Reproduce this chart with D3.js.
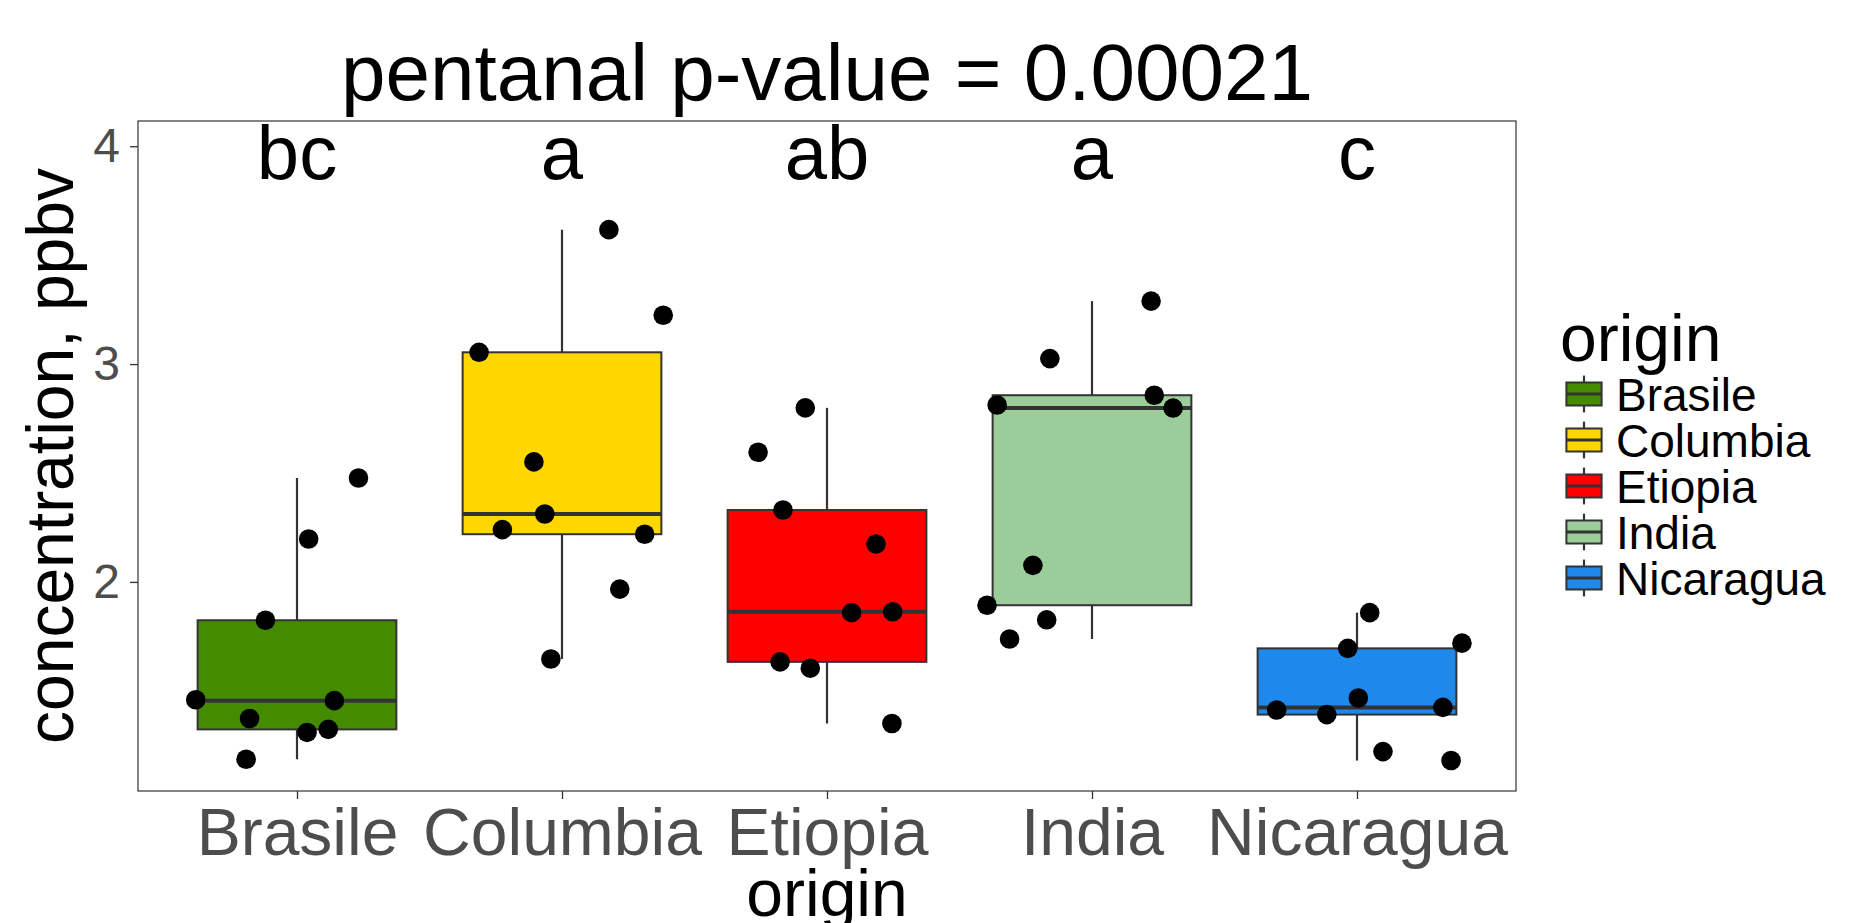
<!DOCTYPE html>
<head>
	<meta charset="utf-8">
	<title>pentanal boxplot</title>
	<script src="https://d3js.org/d3.v7.min.js"></script>
	<style>
	body { margin:0; background:#fff; }
	text { font-family: "Liberation Sans", Arial, sans-serif; }
	.box { stroke:#333333; stroke-width:2; }
	.median { stroke:#333333; stroke-width:4; }
	.whisker { stroke:#333333; stroke-width:2.2; }
	.dot { fill:#000; }
	.panel { fill:none; stroke:#333333; stroke-width:1.2; }
	.axis .domain { display:none; }
	.axis line { stroke:#333333; stroke-width:1.3; }
	.axis text { fill:#4d4d4d; }
	</style>
</head>
<body>
<div class="chartContainer"></div>
<script>
	// categories and group letters
	var origins = ["Brasile", "Columbia", "Etiopia", "India", "Nicaragua"];
	var letters = ["bc", "a", "ab", "a", "c"];
	var letterY = 3.976;
	var yTicks = [2, 3, 4];

	// concentration (ppbv) per origin
	var brasile   = [1.459, 1.373, 1.186, 1.824, 2.197, 2.477, 1.455, 1.309, 1.323];
	var columbia  = [3.054, 3.617, 3.224, 2.551, 2.312, 2.240, 2.219, 1.967, 1.646];
	var etiopia   = [2.799, 2.595, 2.330, 2.174, 1.859, 1.863, 1.633, 1.604, 1.350];
	var india     = [3.289, 3.025, 2.857, 2.812, 2.798, 2.076, 1.893, 1.826, 1.738];
	var nicaragua = [1.859, 1.719, 1.695, 1.467, 1.412, 1.424, 1.391, 1.221, 1.180];

	// horizontal jitter of each point, in category units
	var brasileJit   = [-0.382, -0.179, -0.192, -0.119, 0.044, 0.232, 0.141, 0.038, 0.118];
	var columbiaJit  = [-0.313, 0.177, 0.382, -0.106, -0.065, -0.225, 0.312, 0.218, -0.042];
	var etiopiaJit   = [-0.082, -0.260, -0.166, 0.185, 0.093, 0.248, -0.177, -0.063, 0.245];
	var indiaJit     = [0.223, -0.159, 0.235, -0.358, 0.306, -0.223, -0.396, -0.171, -0.311];
	var nicaraguaJit = [0.048, 0.396, -0.035, 0.005, -0.303, 0.324, -0.114, 0.098, 0.355];

	var fillColors = ["#458B00", "#FFD700", "#FF0000", "#9BCD9B", "#1E88EB"];

	var values = [brasile, columbia, etiopia, india, nicaragua];
	var jitters = [brasileJit, columbiaJit, etiopiaJit, indiaJit, nicaraguaJit];

	var totalWidth = 1854, totalHeight = 923;
	var margin = {top: 121, right: 338, bottom: 132, left: 138};
	var width = totalWidth - margin.left - margin.right;
	var height = totalHeight - margin.top - margin.bottom;

	//box stats the ggplot way (type 7 quantiles, 1.5 IQR whiskers)
	var stats = origins.map(function(o, i) {
		var v = values[i].slice().sort(d3.ascending);
		var q1 = d3.quantile(v, 0.25), med = d3.quantile(v, 0.5), q3 = d3.quantile(v, 0.75);
		var iqr = q3 - q1;
		var inside = v.filter(function(d) { return d >= q1 - 1.5 * iqr && d <= q3 + 1.5 * iqr; });
		return {origin: o, q1: q1, med: med, q3: q3, lo: d3.min(inside), hi: d3.max(inside), fill: fillColors[i]};
	});

	var points = [];
	values.forEach(function(v, i) {
		v.forEach(function(d, j) { points.push({origin: origins[i], value: d, jit: jitters[i][j]}); });
	});

	var yMin = d3.min(points, function(d) { return d.value; });
	var pad = (letterY - yMin) * 0.05;

	var x = d3.scalePoint().domain(origins).range([0, width]).padding(0.6);
	var step = x.step();
	var y = d3.scaleLinear().domain([yMin - pad, letterY + pad]).range([height, 0]);
	var boxW = step * 0.75;

	var svg = d3.select(".chartContainer").append("svg")
		.attr("width", totalWidth)
		.attr("height", totalHeight)
		.append("g")
		.attr("transform", "translate(" + margin.left + "," + margin.top + ")");

	// axes
	svg.append("g")
		.attr("class", "axis")
		.call(d3.axisLeft(y).tickValues(yTicks).tickFormat(d3.format("d")).tickSize(8).tickPadding(10))
		.selectAll("text").style("font-size", "48px");

	svg.append("g")
		.attr("class", "axis")
		.attr("transform", "translate(0," + height + ")")
		.call(d3.axisBottom(x).tickSize(8).tickPadding(9))
		.selectAll("text").style("font-size", "66px");

	// boxes
	var g = svg.selectAll(".boxg")
		.data(stats)
		.enter()
		.append("g")
		.attr("class", "boxg")
		.attr("transform", function(d) { return "translate(" + x(d.origin) + ",0)"; });

	g.append("line").attr("class", "whisker")
		.attr("y1", function(d) { return y(d.hi); })
		.attr("y2", function(d) { return y(d.q3); });
	g.append("line").attr("class", "whisker")
		.attr("y1", function(d) { return y(d.q1); })
		.attr("y2", function(d) { return y(d.lo); });
	g.append("rect").attr("class", "box")
		.attr("x", -boxW / 2)
		.attr("width", boxW)
		.attr("y", function(d) { return y(d.q3); })
		.attr("height", function(d) { return y(d.q1) - y(d.q3); })
		.attr("fill", function(d) { return d.fill; });
	g.append("line").attr("class", "median")
		.attr("x1", -boxW / 2).attr("x2", boxW / 2)
		.attr("y1", function(d) { return y(d.med); })
		.attr("y2", function(d) { return y(d.med); });

	// jittered points
	svg.selectAll(".dot")
		.data(points)
		.enter()
		.append("circle")
		.attr("class", "dot")
		.attr("cx", function(d) { return x(d.origin) + d.jit * step; })
		.attr("cy", function(d) { return y(d.value); })
		.attr("r", 9.8);

	// group letters
	svg.selectAll(".letter")
		.data(origins)
		.enter()
		.append("text")
		.attr("class", "letter")
		.attr("x", function(d) { return x(d); })
		.attr("y", y(letterY))
		.attr("dy", "0.36em")
		.attr("text-anchor", "middle")
		.style("font-size", "76px")
		.text(function(d, i) { return letters[i]; });

	svg.append("rect").attr("class", "panel")
		.attr("width", width)
		.attr("height", height);

	// titles
	svg.append("text")
		.attr("x", width / 2)
		.attr("y", -21)
		.attr("text-anchor", "middle")
		.style("font-size", "80px")
		.text("pentanal p-value = 0.00021");

	svg.append("text")
		.attr("x", width / 2)
		.attr("y", height + 125)
		.attr("text-anchor", "middle")
		.style("font-size", "66px")
		.text("origin");

	svg.append("text")
		.attr("transform", "translate(" + (-65) + "," + (height / 2) + ") rotate(-90)")
		.attr("text-anchor", "middle")
		.style("font-size", "66px")
		.text("concentration, ppbv");

	// legend
	var legend = svg.append("g")
		.attr("transform", "translate(" + (width + 46) + ",0)");

	legend.append("text")
		.attr("x", -2)
		.attr("y", 240)
		.style("font-size", "66px")
		.text("origin");

	var keyH = 46, keyW = 44;
	var item = legend.selectAll(".item")
		.data(stats)
		.enter()
		.append("g")
		.attr("class", "item")
		.attr("transform", function(d, i) { return "translate(0," + (250 + i * keyH) + ")"; });

	item.append("line").attr("class", "whisker")
		.attr("x1", keyW / 2).attr("x2", keyW / 2)
		.attr("y1", keyH * 0.1).attr("y2", keyH * 0.9);
	item.append("rect").attr("class", "box")
		.attr("x", keyW * 0.1).attr("width", keyW * 0.8)
		.attr("y", keyH * 0.25).attr("height", keyH * 0.5)
		.attr("fill", function(d) { return d.fill; });
	item.append("line").attr("class", "median")
		.attr("x1", keyW * 0.1).attr("x2", keyW * 0.9)
		.attr("y1", keyH / 2).attr("y2", keyH / 2)
		.style("stroke-width", 3);
	item.append("text")
		.attr("x", keyW + 10)
		.attr("y", keyH / 2)
		.attr("dy", "0.36em")
		.style("font-size", "46px")
		.text(function(d) { return d.origin; });
</script>
</body>
</html>
